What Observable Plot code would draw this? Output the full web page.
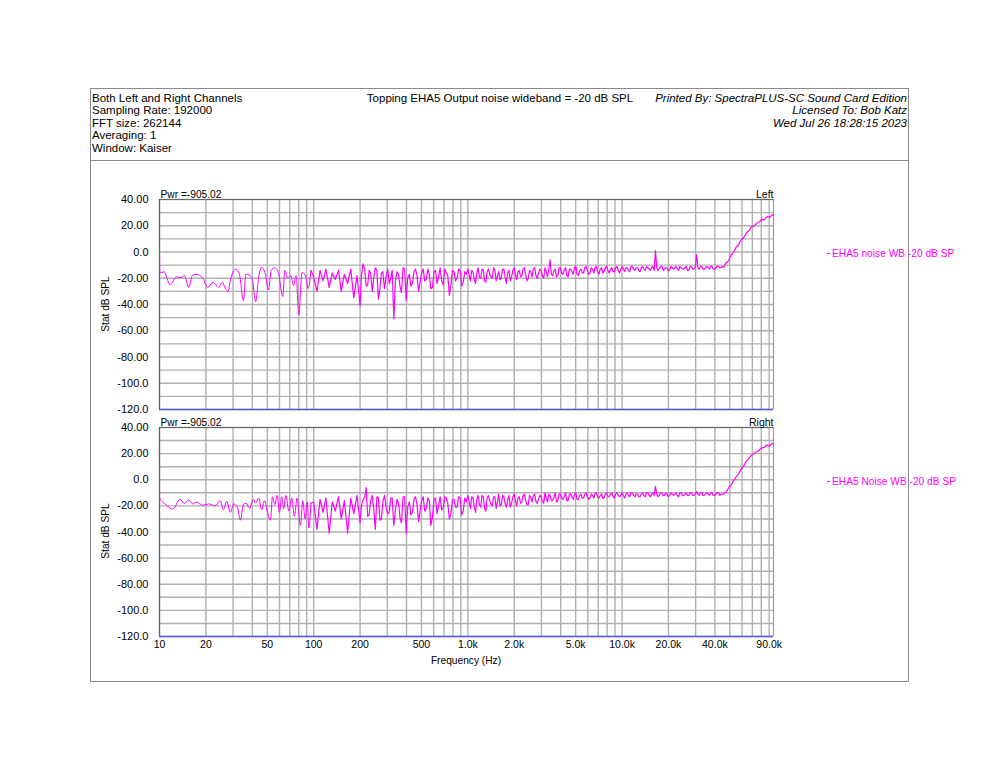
<!DOCTYPE html>
<html><head><meta charset="utf-8">
<script src="https://cdn.jsdelivr.net/npm/d3@7"></script>
<script src="https://cdn.jsdelivr.net/npm/@observablehq/plot@0.6"></script>
<style>
body{margin:0;background:#fff;font-family:"Liberation Sans",Arial,sans-serif;color:#000;}
#page{position:relative;width:1000px;height:772px;overflow:hidden;background:#fff;}
.abs{position:absolute;white-space:nowrap;}
.panel{position:absolute;left:0;}
</style></head><body><div id="page"></div>
<script>
// ---------- header texts ----------
const headerLeft = ["Both Left and Right Channels","Sampling Rate: 192000","FFT size: 262144","Averaging: 1","Window: Kaiser"];
const headerTitle = "Topping EHA5 Output noise wideband = -20 dB SPL";
const headerRight = ["Printed By: SpectraPLUS-SC Sound Card Edition","Licensed To: Bob Katz","Wed Jul 26 18:28:15 2023"];
const channelNames = ["Left","Right"];
const seriesNames = ["EHA5 noise WB -20 dB SP","EHA5 Noise WB -20 dB SP"];
const pwrLabel = "Pwr =-905.02";
const yLabel = "Stat dB SPL";
const xLabel = "Frequency (Hz)";

// ---------- ticks ----------
const yTicks = [40,20,0,-20,-40,-60,-80,-100,-120];
const yTickLabels = ["40.00","20.00","0.0","-20.00","-40.00","-60.00","-80.00","-100.0","-120.0"];
const yGrid = [40,30,20,10,0,-10,-20,-30,-40,-50,-60,-70,-80,-90,-100,-110,-120];
const xTicks = [10,20,50,100,200,500,1000,2000,5000,10000,20000,40000,90000];
const xTickLabels = ["10","20","50","100","200","500","1.0k","2.0k","5.0k","10.0k","20.0k","40.0k","90.0k"];
const xGrid = [10,20,30,40,50,60,70,80,90,100,200,300,400,500,600,700,800,900,
  1000,2000,3000,4000,5000,6000,7000,8000,9000,10000,20000,30000,40000,50000,60000,70000,80000,90000];
const xDomain = [10, 96000];
const yDomain = [-120, 40];

// ---------- low-frequency traces [Hz, dB] ----------
const lowLeft = [[10,3],[10.05,-16],[10.7,-15],[11.7,-25],[12.9,-19],[13.8,-19.5],[14.5,-18],[15.5,-27],[16.3,-18],[17.3,-17],[19.1,-20],[20.5,-27],[22.3,-23],[24.2,-27],[25.5,-23],[26.8,-28],[27.8,-30],[29,-20],[31.3,-13],[33,-17],[35,-37],[36.3,-17],[38.3,-17.5],[40,-21],[42,-38],[44,-19],[46,-11.5],[48.5,-16.5],[51,-29],[53,-14],[56,-12],[59,-15.5],[63,-34],[65,-14],[68,-20],[71,-18],[74,-25.5],[77,-18],[80,-48],[84,-15.5],[89,-19],[92,-28],[96,-14]];
const lowRight = [[10,8],[10.02,-14],[11,-19],[12.2,-22.5],[13.6,-15],[14.5,-18],[15.5,-15.5],[16.4,-18.5],[17.5,-17],[19,-19.5],[20.9,-18.5],[23,-20],[24.8,-16],[26,-23],[27.3,-16.5],[28.8,-25],[30.3,-18.5],[32,-21],[33.5,-31],[35,-19],[36.5,-18],[38.5,-22],[40.5,-15],[42,-18],[44,-14],[46,-23],[48,-16],[50,-24],[52.5,-31],[54,-13],[56,-19],[58,-12],[60,-25],[62,-13],[64,-22],[66,-12],[69,-24],[72,-14],[75,-28],[78,-14],[82,-35],[85,-16],[88,-30],[91,-17],[93,-37],[96,-18]];

// ---------- wideband part: frequency list + per-channel dB ----------
const bandFreq = [100,105,110,115,120,126,132,138,145,151,158,166,174,182,191,200,209,219,229,240,251,263,275,288,302,316,331,347,363,380,398,417,437,457,479,501,525,550,575,603,631,661,692,724,759,794,832,871,912,955,
1000,1039,1080,1122,1166,1212,1259,1308,1359,1413,1468,1526,1585,1647,1711,1778,1848,1920,1995,2073,2154,2239,2326,2418,2512,2610,2712,2818,2929,3043,3162,3286,3415,3548,3687,3831,3981,4137,4299,4467,4642,4823,5012,5208,5412,5623,5843,6072,6310,6557,6813,7079,7356,7644,7943,8254,8577,8913,9261,9624,
10000,10390,10800,11220,11660,12120,12590,13080,13590,14130,14680,15260,15850,16470,17110,17780,18480,19200,19950,20730,21540,22390,23260,24180,25120,26100,27120,28180,29290,30430,31620,32860,34150,35480,36870,38310,39810,41370,42990,44670,
46420,48230,50120,52080,54120,56230,58430,60720,63100,65570,68130,70790,73560,76440,79430,82540,85770,89130,92610,96000];
const bandLeft = [-19,-30,-14,-22,-13,-27,-16,-21,-14,-30,-17,-24,-13,-35,-18,-41,-9,-26,-14,-30,-12,-36,-16,-28,-13,-20,-51,-15,-26,-12,-37,-17,-24,-13,-30,-16,-22,-13,-28,-15,-24,-12,-25,-16,-33,-14,-22,-13,-26,-15,
-13,-22,-15,-24,-12,-20,-14,-23,-13,-19,-12,-22,-15,-20,-13,-24,-14,-19,-12,-21,-14,-18,-12,-22,-14,-19,-12,-20,-13,-18,-12,-19,-6,-18,-13,-18,-12,-17,-12,-19,-13,-17,-11,-18,-13,-16,-11,-17,-12,-16,-11,-17,-12,-15,-11,-16,-12,-15,-11,-16,
-11,-15,-12,-15,-11,-14,-12,-15,-11,-14,-12,-14,-11,1,-14,-11,-14,-12,-14,-11,-13,-11,-14,-12,-13,-11,-14,-11,-13,-2,-13,-11,-13,-11,-13,-11,-13,-11,-12,-11,
-10,-7.5,-4,-1.5,2,4.5,8,10.5,13,15.5,18,19.5,21,22.5,24,24.5,26,26.5,27.5,28];
const bandRight = [-17,-38,-15,-25,-14,-41,-17,-24,-13,-30,-16,-41,-14,-26,-12,-33,-15,-6,-27,-12,-38,-14,-30,-12,-26,-14,-35,-15,-29,-13,-41,-17,-25,-13,-32,-16,-24,-14,-35,-15,-26,-13,-22,-14,-30,-15,-21,-13,-27,-14,
-12,-22,-14,-25,-12,-21,-13,-24,-12,-19,-13,-22,-11,-19,-13,-21,-12,-18,-11,-20,-13,-17,-11,-19,-12,-17,-11,-18,-12,-16,-10,-17,-12,-16,-10,-16,-11,-15,-10,-16,-11,-15,-10,-15,-11,-14,-10,-15,-11,-14,-10,-14,-11,-14,-10,-13,-10,-14,-10,-13,
-10,-14,-10,-13,-10,-13,-11,-13,-10,-13,-10,-13,-10,-5,-13,-10,-12,-10,-13,-10,-12,-10,-13,-10,-12,-10,-12,-10,-12,-9,-12,-10,-12,-10,-12,-10,-12,-10,-12,-11,
-10,-8,-5,-2,1,3.5,7,10,13,15.5,18,19.5,21,22,24,24.5,26,26,27,27.5];

// additional in-between readings of the dense noise band
const fineFreq = [204,214,224,234,245,257,269,281,295,309,323,339,355,371,389,407,427,447,468,490,513,537,562,589,617,646,676,708,741,776,813,851,891,933,977,
1020,1060,1101,1144,1189,1235,1283,1333,1386,1440,1497,1555,1616,1679,1744,1813,1884,1957,2034,2113,2196,2282,2371,2464,2561,2661,2765,2873,2985,3102,3224,3350,3481,3617,3758,3905,4058,4217,4382,4554,4732,4917,5109,5309,5517,5732,5957,6190,6432,6684,6945,7217,7500,7793,8098,8415,8745,9087,9442,9811,
10200,10600,11010,11440,11890,12350,12830,13330,13860,14400,14970,15550,16160,16790,17440,18130,18840,19570,20340,21130,21960,22820,23710,24640,25610,26610,27650,28730,29850,31020,32240,33500,34810,36170,37580,39050,40580,42170,43820,
45540,47310,49170,51090,53090,55170,57320,59570,61900,64320,66840,69450,72170,75000,77930,80980,84150,87440,90860,94300];
const fineLeft = [-18,-13,-25,-16,-20,-14,-28,-15,-19,-24,-14,-22,-17,-31,-13,-20,-26,-15,-18,-23,-13,-21,-17,-27,-14,-19,-22,-13,-18,-25,-15,-20,-14,-23,-17,
-18,-14,-21,-16,-19,-13,-22,-15,-17,-20,-14,-18,-21,-13,-19,-16,-22,-14,-17,-15,-19,-13,-17,-20,-15,-13,-18,-16,-14,-20,-15,-13,-17,-14,-19,-12,-16,-14,-18,-13,-15,-12,-17,-14,-16,-12,-14,-16,-13,-12,-15,-13,-16,-12,-14,-13,-15,-12,-14,-13,
-13,-12,-14,-11,-13,-12,-14,-12,-13,-11,-13,-12,-14,-12,-13,-11,-13,-12,-14,-12,-12,-13,-11,-13,-12,-14,-11,-13,-12,-12,-11,-13,-12,-12,-11,-13,-12,-11,-12,
-11.5,-8,-6.5,-2,0,4,6,9.5,11.5,15,16.5,19.5,20,22,23,25,25,27,26.5,28.5];
const fineRight = [-20,-14,-28,-16,-22,-13,-31,-17,-21,-25,-14,-23,-18,-33,-13,-21,-27,-15,-19,-24,-13,-22,-16,-29,-14,-20,-23,-13,-18,-26,-15,-21,-14,-24,-17,
-17,-13,-21,-15,-19,-12,-22,-14,-16,-20,-13,-17,-20,-12,-18,-15,-21,-13,-16,-14,-18,-12,-16,-19,-14,-12,-17,-15,-13,-18,-14,-11,-16,-13,-17,-11,-14,-13,-16,-11,-13,-11,-15,-12,-14,-11,-13,-14,-12,-11,-13,-12,-14,-11,-13,-11,-13,-11,-12,-12,
-12,-11,-12,-10,-12,-11,-13,-11,-12,-10,-12,-11,-12,-11,-12,-10,-12,-11,-12,-11,-11,-12,-10,-12,-11,-12,-10,-12,-11,-11,-10,-12,-11,-11,-10,-12,-11,-10,-11,
-11,-9.5,-6,-4,-0.5,2.5,5,8.5,11,14.5,16.5,19,20.5,21.5,23,24.5,25,26.5,26,28];

const traceColor = "#ff00ff";
const FONT = "'Liberation Sans', Arial, Helvetica, sans-serif";

const page = document.getElementById("page");
function addDiv(text, css) {
  const d = document.createElement("div");
  d.className = "abs";
  d.textContent = text;
  Object.assign(d.style, css);
  page.appendChild(d);
  return d;
}

// header
const HF = "11.5px";
headerLeft.forEach((t, i) => addDiv(t, {left: "92px", top: (91.5 + i * 12.5) + "px", fontSize: HF, lineHeight: "13px"}));
addDiv(headerTitle, {left: "250px", width: "500px", textAlign: "center", top: "91.5px", fontSize: HF, lineHeight: "13px"});
headerRight.forEach((t, i) => addDiv(t, {right: "93px", textAlign: "right", top: (91.5 + i * 12.5) + "px", fontSize: HF, lineHeight: "13px", fontStyle: "italic"}));

const yLabelMap = new Map(yTicks.map((v, i) => [v, yTickLabels[i]]));

function panel(low, band, name, showX, top, height, mt, mb) {
  const marks = [
    Plot.gridY(yGrid, {stroke: "#b0b0b0", strokeOpacity: 1, strokeWidth: 1.4}),
    Plot.gridX(xGrid, {stroke: "#b0b0b0", strokeOpacity: 1, strokeWidth: 1.4}),
    Plot.axisY(yTicks, {tickSize: 0, tickPadding: 11, tickFormat: d => yLabelMap.get(d), label: null}),
    Plot.ruleX([xDomain[0]], {stroke: "#666", strokeWidth: 1.2}),
    Plot.ruleX([xDomain[1]], {stroke: "#999", strokeWidth: 1.2}),
    Plot.ruleY([yDomain[1]], {stroke: "#666", strokeWidth: 1.2}),
    Plot.line(low, {x: d => d[0], y: d => d[1], stroke: traceColor, strokeWidth: 1, curve: "monotone-x"}),
    Plot.line(band, {x: d => d[0], y: d => d[1], stroke: traceColor, strokeWidth: 1.2, curve: "linear"}),
    Plot.ruleY([yDomain[0]], {stroke: "#5a5ae0", strokeWidth: 1.5}),
    Plot.text([pwrLabel], {text: d => d, frameAnchor: "top-left", textAnchor: "start", lineAnchor: "bottom", dx: 1, dy: -2, fontSize: 10.2}),
    Plot.text([name], {text: d => d, frameAnchor: "top-right", textAnchor: "end", lineAnchor: "bottom", dy: -2, fontSize: 10.5})
  ];
  if (showX) marks.push(Plot.text(xTicks, {x: d => d, text: (d, i) => xTickLabels[i], frameAnchor: "bottom", lineAnchor: "top", dy: 4, fontSize: 10.5}));
  const svg = Plot.plot({
    width: 1000, height,
    marginLeft: 159, marginRight: 227, marginTop: mt, marginBottom: mb,
    x: {type: "log", domain: xDomain, axis: null},
    y: {domain: yDomain, axis: null},
    style: {fontFamily: FONT, fontSize: "11px", color: "#000", background: "transparent", overflow: "visible"},
    marks
  });
  const wrap = document.createElement("div");
  wrap.className = "panel";
  wrap.style.top = top + "px";
  wrap.appendChild(svg);
  page.appendChild(wrap);
}

function buildBand(low, vals, fine) {
  const pts = bandFreq.map((f, i) => [f, vals[i]]).concat(fineFreq.map((f, i) => [f, fine[i]]));
  return [low[low.length - 1]].concat(d3.sort(pts, d => d[0]));
}
const leftBand = buildBand(lowLeft, bandLeft, fineLeft);
const rightBand = buildBand(lowRight, bandRight, fineRight);

panel(lowLeft, leftBand, channelNames[0], false, 170, 250, 29, 11);
panel(lowRight, rightBand, channelNames[1], true, 410, 265, 17, 39);

// y labels (rotated)
[304, 531].forEach(cy => {
  addDiv(yLabel, {left: "106px", top: cy + "px", fontSize: "10.2px", lineHeight: "12px", transform: "translate(-50%,-50%) rotate(-90deg)"});
});
addDiv(xLabel, {left: "466px", top: "661px", fontSize: "10.2px", lineHeight: "12px", transform: "translate(-50%,-50%)"});

// legends
[[253, seriesNames[0]], [481, seriesNames[1]]].forEach(([cy, t]) => {
  const d = document.createElement("div");
  d.className = "abs";
  Object.assign(d.style, {left: "827px", top: (cy - 6.5) + "px", fontSize: "10.2px", lineHeight: "13px", color: traceColor});
  const dash = document.createElement("span");
  Object.assign(dash.style, {display: "inline-block", width: "3px", height: "1px", background: traceColor, verticalAlign: "middle", marginRight: "2px"});
  d.appendChild(dash);
  d.appendChild(document.createTextNode(t));
  page.appendChild(d);
});

// outer frame and header separator
const frame = document.createElement("div");
Object.assign(frame.style, {position: "absolute", left: "90px", top: "88px", width: "819px", height: "594px", border: "1px solid #8a8a8a", boxSizing: "border-box", pointerEvents: "none"});
page.appendChild(frame);
const sep = document.createElement("div");
Object.assign(sep.style, {position: "absolute", left: "90px", top: "160px", width: "819px", height: "1px", background: "#8a8a8a"});
page.appendChild(sep);
</script>
</body></html>
